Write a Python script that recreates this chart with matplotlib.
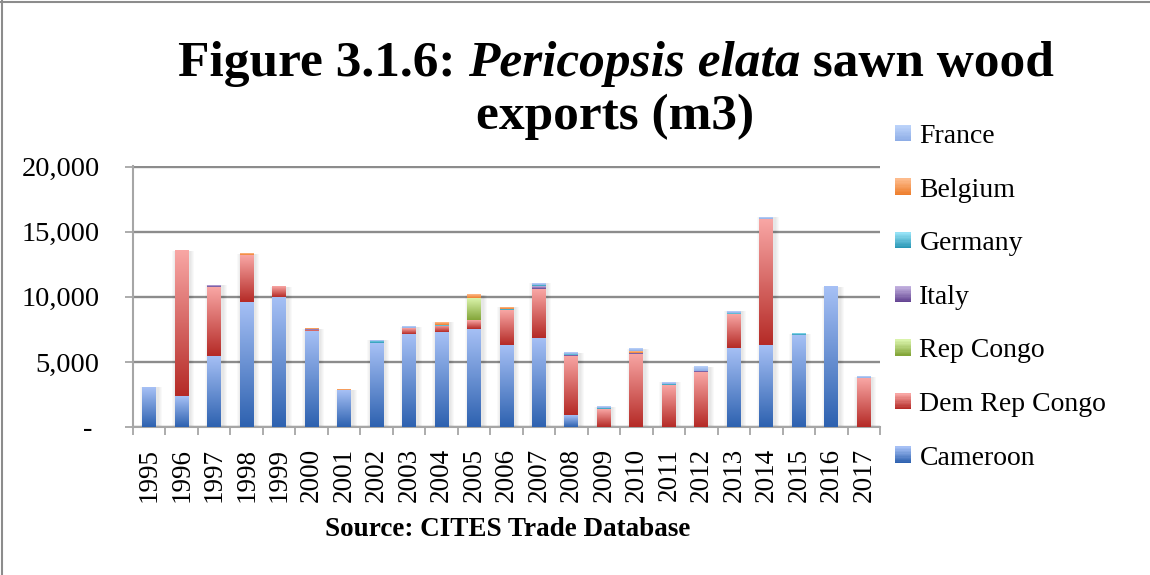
import matplotlib
matplotlib.use('Agg')
import matplotlib.pyplot as plt
import numpy as np
from matplotlib.colors import LinearSegmentedColormap
from matplotlib.patches import Rectangle
from matplotlib.legend_handler import HandlerBase
from matplotlib.lines import Line2D

years = [str(y) for y in range(1995, 2018)]
cameroon = [3050, 2350, 5490, 9630, 10010, 7400, 2810, 6430, 7180, 7280, 7560, 6330,
            6870, 900, 0, 0, 0, 0, 6100, 6330, 7080, 10780, 0]
dem_rep_congo = [0, 11200, 5300, 3570, 770, 60, 0, 0, 430, 510, 670, 2630,
                 3700, 4540, 1360, 5640, 3190, 4210, 2610, 9660, 0, 0, 3750]
rep_congo = [0, 0, 0, 0, 0, 0, 0, 0, 0, 0, 1650, 0, 0, 0, 0, 0, 0, 0, 0, 0, 0, 0, 0]
italy = [0, 0, 100, 0, 0, 40, 0, 0, 0, 0, 0, 0, 230, 80, 0, 80, 0, 80, 0, 0, 0, 0, 0]
germany = [0, 0, 0, 0, 0, 0, 0, 200, 0, 60, 40, 80, 80, 60, 80, 0, 80, 0, 60, 0, 80, 0, 0]
belgium = [0, 0, 0, 100, 0, 60, 60, 0, 0, 200, 240, 150, 0, 0, 0, 100, 0, 0, 0, 0, 0, 0, 0]
france = [0, 0, 0, 0, 0, 0, 0, 40, 80, 0, 0, 0, 150, 140, 120, 160, 150, 350, 150, 150, 0, 0, 120]

# stacking order bottom -> top, (dark bottom, light top) gradient
series = [
    ('Cameroon', cameroon, '#2E62B0', '#A6C0F5'),
    ('Dem Rep Congo', dem_rep_congo, '#B52B27', '#F8A6A4'),
    ('Rep Congo', rep_congo, '#84A63A', '#D9F3AA'),
    ('Italy', italy, '#654593', '#C3B2E0'),
    ('Germany', germany, '#2A97B5', '#95E2F6'),
    ('Belgium', belgium, '#EE7F2E', '#FDBB8C'),
    ('France', france, '#8EADE6', '#BCD3FA'),
]

plt.rcParams['font.family'] = ['Liberation Serif', 'DejaVu Serif']
W, H = 1150, 575
fig = plt.figure(figsize=(W / 100, H / 100), dpi=100)
ax = fig.add_axes([133 / W, 1 - 427 / H, (880 - 133) / W, (427 - 166) / H])

x = np.arange(len(years))
bw = 0.43
grad = np.linspace(0, 1, 64).reshape(-1, 1)
totals = np.sum([s[1] for s in series], axis=0)

# soft shadow behind bars
px_x = 1 / 32.5
px_y = 20000 / 261
for i, t in enumerate(totals):
    for k in range(1, 5):
        ax.add_patch(Rectangle((x[i] - bw / 2 + 1.5 * px_x - k * px_x, -k * px_y),
                               bw + 2 * k * px_x, t + k * px_y,
                               facecolor='#000000', alpha=0.025, lw=0, zorder=2))

bottom = np.zeros(len(years))
for name, vals, dark, light in series:
    cmap = LinearSegmentedColormap.from_list(name, [dark, light])
    for i, v in enumerate(vals):
        if v <= 0:
            continue
        ax.imshow(grad, cmap=cmap, origin='lower', aspect='auto', interpolation='bilinear',
                  extent=[x[i] - bw / 2, x[i] + bw / 2, bottom[i], bottom[i] + v], zorder=3)
    bottom += np.array(vals)

ax.set_xlim(-0.5, len(years) - 0.5)
ax.set_ylim(0, 20050)

grey = '#8c8c8c'
ax.set_axisbelow(True)
ax.yaxis.grid(True, color=grey, lw=1.7)
for s in ['top', 'right']:
    ax.spines[s].set_visible(False)
for s in ['left', 'bottom']:
    ax.spines[s].set_color('#a6a6a6')
    ax.spines[s].set_linewidth(1.5)

ax.set_yticks([0, 5000, 10000, 15000, 20000])
ax.set_yticklabels(['- ', '5,000', '10,000', '15,000', '20,000'], fontsize=20.5)
ax.tick_params(axis='y', length=6, width=1.3, color='#a6a6a6', pad=18)

ax.set_xticks(x)
ax.set_xticklabels(years, rotation=90, fontsize=19.5)
ax.tick_params(axis='x', which='major', length=0, pad=15)
ax.set_xticks(np.arange(-0.5, len(years)), minor=True)
ax.tick_params(axis='x', which='minor', length=6, width=1.3, color='#a6a6a6')


class GradHandler(HandlerBase):
    def __init__(self, dark, light):
        super().__init__()
        self.cmap = LinearSegmentedColormap.from_list('h', [dark, light])

    def create_artists(self, legend, orig_handle, xdescent, ydescent, width, height, fontsize, trans):
        n = 12
        size = min(width, height)
        y0 = -ydescent + (height - size) / 2
        arts = []
        for k in range(n):
            arts.append(Rectangle((-xdescent, y0 + k * size / n), size, size / n + 0.3,
                                  facecolor=self.cmap(k / (n - 1)), lw=0, transform=trans))
        return arts


handles, labels, hmap = [], [], {}
for name, vals, dark, light in series[::-1]:
    h = Rectangle((0, 0), 1, 1)
    handles.append(h)
    labels.append(name)
    hmap[h] = GradHandler(dark, light)

fig.legend(handles, labels, handler_map=hmap, loc='upper left',
           bbox_to_anchor=(895 / W, 1 - 124 / H), frameon=False, fontsize=20,
           handlelength=0.58, handleheight=0.58, handletextpad=0.3,
           labelspacing=1.03, borderpad=0, borderaxespad=0)

# title, with the species name in italics
fig.canvas.draw()
r = fig.canvas.get_renderer()
parts = [('Figure 3.1.6: ', 'normal'), ('Pericopsis elata', 'italic'), (' sawn wood', 'normal')]
texts = [fig.text(0, 1 - 76 / H, s, fontsize=37, fontweight='bold', style=st, va='baseline')
         for s, st in parts]
widths = [t.get_window_extent(r).width for t in texts]
x0 = 616 - sum(widths) / 2
for t, wd in zip(texts, widths):
    t.set_x(x0 / W)
    x0 += wd
fig.text(615 / W, 1 - 129 / H, 'exports (m3)', fontsize=37, fontweight='bold',
         ha='center', va='baseline')

fig.text(508 / W, 1 - 536 / H, 'Source: CITES Trade Database', fontsize=19.5,
         fontweight='bold', ha='center', va='baseline')

# frame lines along top and left edge
fig.add_artist(Line2D([1.5 / W, 1.5 / W], [0, 1], transform=fig.transFigure, color=grey, lw=1.5))
fig.add_artist(Line2D([0, 1], [1 - 1.5 / H, 1 - 1.5 / H], transform=fig.transFigure, color=grey, lw=1.5))

fig.savefig('out.png', dpi=100, facecolor='white')
